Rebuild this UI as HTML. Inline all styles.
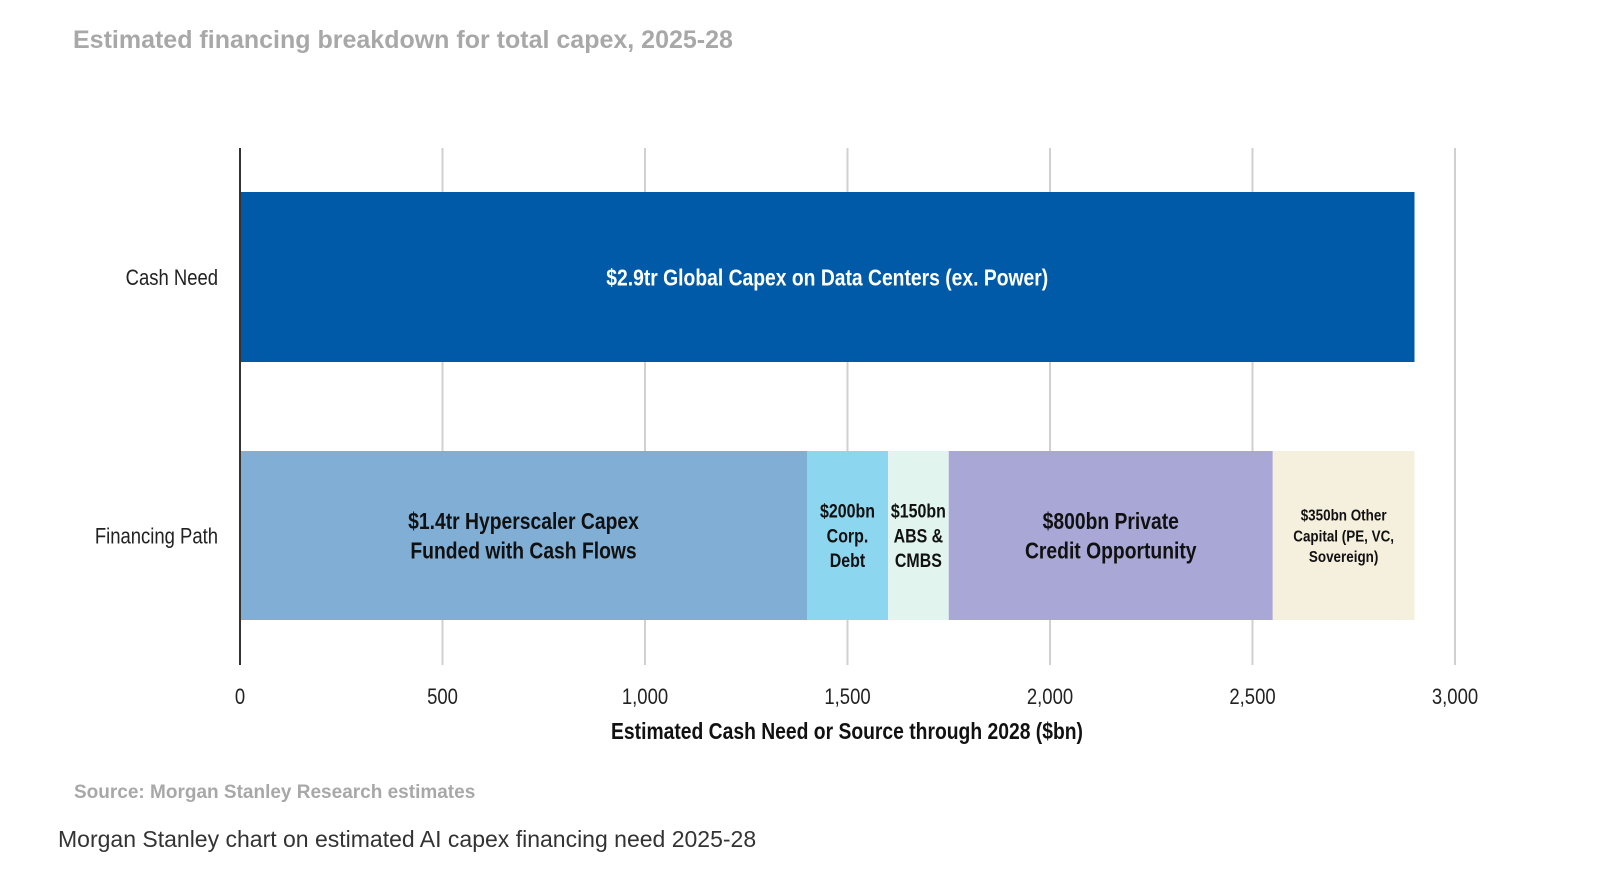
<!DOCTYPE html>
<html><head><meta charset="utf-8"><style>
body{margin:0;background:#fff;width:1600px;height:873px;overflow:hidden;font-family:"Liberation Sans",sans-serif}
.t{position:absolute;white-space:nowrap}
</style></head><body>
<div class="t" style="left:73px;top:26px;font-size:25px;font-weight:bold;color:#a8a8a8">Estimated financing breakdown for total capex, 2025-28</div>
<svg id="ch" width="1600" height="873" style="position:absolute;left:0;top:0"></svg>
<div class="t" style="left:74px;top:782px;font-size:19px;font-weight:bold;color:#a8a8a8">Source: Morgan Stanley Research estimates</div>
<div class="t" style="left:58px;top:826px;font-size:23px;color:#333">Morgan Stanley chart on estimated AI capex financing need 2025-28</div>
<script>
const categories=["Cash Need","Financing Path"];
const cashValues=[2900];
const cashLabels=[["$2.9tr Global Capex on Data Centers (ex. Power)"]];
const finValues=[1400,200,150,800,350];
const finLabels=[["$1.4tr Hyperscaler Capex","Funded with Cash Flows"],["$200bn","Corp.","Debt"],["$150bn","ABS &","CMBS"],["$800bn Private","Credit Opportunity"],["$350bn Other","Capital (PE, VC,","Sovereign)"]];
const ticks=[0,500,1000,1500,2000,2500,3000];
const tickLabels=["0","500","1,000","1,500","2,000","2,500","3,000"];
const NS="http://www.w3.org/2000/svg",svg=document.getElementById('ch');
const x=v=>240+v*(1455-240)/3000;
const F='"Liberation Sans",sans-serif';
const SX=0.84;
function mk(t,a,txt,parent){const e=document.createElementNS(NS,t);for(const k in a)e.setAttribute(k,a[k]);if(txt!=null)e.textContent=txt;(parent||svg).appendChild(e);return e;}
function txt(px,py,s,a){const g=mk('g',{transform:`translate(${px},${py}) scale(${SX},1)`});return mk('text',Object.assign({x:0,y:0,'font-family':F},a),s,g);}
ticks.forEach((t,i)=>{
 if(t>0){const g=mk('line',{x1:x(t),x2:x(t),y1:148,y2:665,stroke:'#d0d0d0','stroke-width':2});
 
 }
 const l=txt(x(t),704,tickLabels[i],{'text-anchor':'middle','font-size':22,fill:'#222'});
 
 
});
const rows=[{y:192,h:170,vals:cashValues,labs:cashLabels,cols:['#005aa7'],tc:['#fff'],fs:[23]},
 {y:451,h:169,vals:finValues,labs:finLabels,cols:['#80aed4','#8dd6f0','#e1f4ee','#a8a7d6','#f5efde'],tc:['#111','#111','#111','#111','#111'],fs:[23,19,19,23,16]}];
rows.forEach((r,ri)=>{
 let acc=0;
 r.vals.forEach((v,i)=>{
  const x0=x(acc),x1=x(acc+v);acc+=v;
  const b=mk('rect',{x:x0,y:r.y,width:x1-x0,height:r.h,fill:r.cols[i]});
  
  
  const L=r.labs[i],fs=r.fs[i],lh=fs*1.3,cy=r.y+r.h/2;
  L.forEach((s,j)=>{
   const tt=txt((x0+x1)/2,cy+(j-(L.length-1)/2)*lh+fs*0.36,s,{'text-anchor':'middle','font-size':fs,'font-weight':'bold',fill:r.tc[i]});
   
   
  });
 });
 const c=txt(218,r.y+r.h/2+8,categories[ri],{'text-anchor':'end','font-size':22,fill:'#222'});
 
 
});
const ax=mk('line',{x1:240,x2:240,y1:148,y2:665,stroke:'#333','stroke-width':2});


const at=txt(847,739,'Estimated Cash Need or Source through 2028 ($bn)',{'text-anchor':'middle','font-size':23,'font-weight':'bold',fill:'#111'});


</script>
</body></html>
